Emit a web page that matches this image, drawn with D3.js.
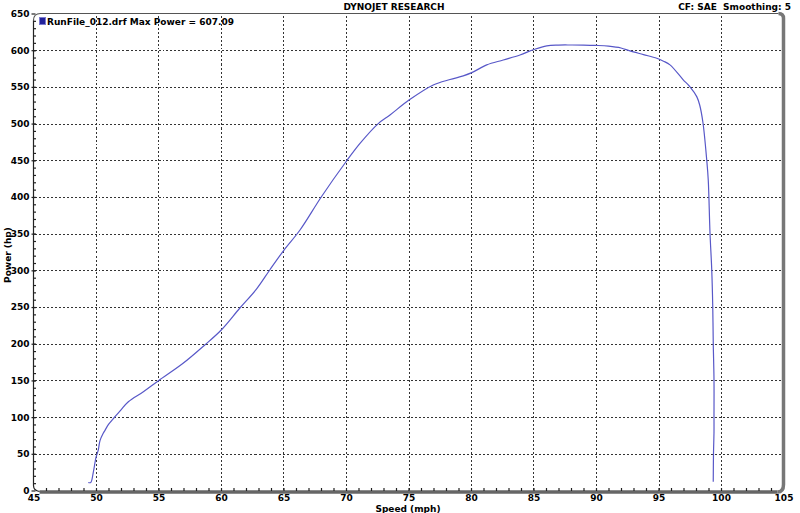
<!DOCTYPE html>
<html lang="en">
<head>
<meta charset="utf-8">
<title>Dynojet power run</title>
<script src="https://cdn.jsdelivr.net/npm/d3@7"></script>
<style>
  body { margin: 0; background: #fff; }
  svg { display: block; font-family: Verdana, "DejaVu Sans", sans-serif; font-weight: bold; }
  .grid line { stroke: #333; stroke-width: 1; stroke-dasharray: 2,2; shape-rendering: crispEdges; }
</style>
</head>
<body>
<script>
// Run data: speed (mph) vs power (hp)
var speed = [49.38, 49.58, 49.78, 50.0, 50.18, 50.32, 50.58, 50.72, 51.0, 51.52, 52.0, 52.59, 53.79, 55.0,
             56.94, 58.68, 60.02, 61.48, 62.82, 63.9, 65.04, 66.32, 68.02, 70.0, 71.12, 72.58, 73.52,
             75.04, 76.98, 78.32, 79.38, 80.06, 81.26, 82.58, 83.92, 85.04, 86.06, 87.0, 88.0, 89.0,
             90.0, 91.0, 92.0, 92.72, 93.8, 94.86, 95.4, 95.92, 96.96, 97.52, 98.06, 98.3, 98.56,
             98.86, 98.98, 99.12, 99.26, 99.34, 99.38, 99.44, 99.44, 99.44, 99.4, 99.38];
var power = [10.9, 11, 24.5, 45, 55, 68, 78, 82, 90, 100.6, 110, 121, 134.6, 149.7,
             173, 198, 218.7, 248, 274, 300.5, 327.7, 355, 400, 448, 473, 500, 511.7,
             532, 552.6, 560, 565, 569.4, 580, 586.7, 593.5, 601, 606, 607, 607.09, 607,
             606.5, 605.5, 603, 599, 594, 589, 585, 580, 560, 550, 536.7, 525, 500.8,
             450, 423, 351, 300.5, 250.5, 201, 150.6, 100.6, 80, 51, 12];

var xMajor = d3.range(45, 106, 5);
var yMajor = d3.range(0, 651, 50);
var xGrid = d3.range(50, 101, 5);
var yGrid = d3.range(50, 601, 50);

var titleText = "DYNOJET RESEARCH";
var infoText = "CF: SAE  Smoothing: 5";
var legendText = "RunFile_012.drf Max Power = 607.09";
var xLabel = "Speed (mph)";
var yLabel = "Power (hp)";

var w = 800, h = 513;

var x = d3.scaleLinear().domain([45, 105]).range([33.5, 783.5]);
var y = d3.scaleLinear().domain([0, 650]).range([490.5, 13.5]);

var svg = d3.select("body").append("svg")
    .attr("width", w)
    .attr("height", h);

// dotted grid
var grid = svg.append("g").attr("class", "grid");
grid.selectAll("line.v")
    .data(xGrid)
    .enter().append("line")
    .attr("class", "v")
    .attr("x1", function(d) { return Math.round(x(d)) + 0.5; })
    .attr("x2", function(d) { return Math.round(x(d)) + 0.5; })
    .attr("y1", y(650) + 2)
    .attr("y2", y(0) - 1);
grid.selectAll("line.h")
    .data(yGrid)
    .enter().append("line")
    .attr("class", "h")
    .attr("x1", x(45) + 1)
    .attr("x2", x(105) - 2)
    .attr("y1", function(d) { return Math.round(y(d)) + 0.5; })
    .attr("y2", function(d) { return Math.round(y(d)) + 0.5; });

// frame: top-left rounded corner, thin top line, thick grey right and bottom
var x0 = x(45), x1 = x(105), y0 = y(0), y1 = y(650);
svg.append("path")
    .attr("d", "M" + x0 + "," + (y1 + 7) + " Q" + x0 + "," + y1 + " " + (x0 + 7) + "," + y1 + " L" + (x1 - 5) + "," + y1)
    .attr("fill", "none")
    .attr("stroke", "#555")
    .attr("stroke-width", 1.2);
svg.append("path")
    .attr("d", "M" + (x1 - 5) + "," + y1 + " Q" + x1 + "," + y1 + " " + x1 + "," + (y1 + 5) + " L" + x1 + "," + (y0 - 6) +
          " Q" + x1 + "," + (y0 + 1.5) + " " + (x1 - 6) + "," + (y0 + 1.5))
    .attr("fill", "none")
    .attr("stroke", "#777")
    .attr("stroke-width", 3.5);
svg.append("line")
    .attr("x1", x0 + 6).attr("x2", x1 - 6)
    .attr("y1", y0 + 1.5).attr("y2", y0 + 1.5)
    .attr("stroke", "#666")
    .attr("stroke-width", 3.5);
svg.append("path")
    .attr("d", "M" + x0 + "," + (y1 + 7) + " L" + x0 + "," + (y0 - 5) + " Q" + x0 + "," + y0 + " " + (x0 + 6) + "," + (y0 + 1))
    .attr("fill", "none")
    .attr("stroke", "#222")
    .attr("stroke-width", 1.2);

// y axis ticks and labels
var yAxisMinor = d3.axisLeft(y)
    .tickValues(d3.range(10, 650, 10))
    .tickSize(3)
    .tickFormat("");
var gyMinor = svg.append("g")
    .attr("transform", "translate(" + (x0 + 2.5) + ",0)")
    .call(yAxisMinor);
gyMinor.select(".domain").remove();
gyMinor.selectAll("line").attr("stroke", "#222").attr("stroke-width", 1.2);

var yAxis = d3.axisLeft(y)
    .tickValues(yMajor)
    .tickSize(4)
    .tickPadding(1)
    .tickFormat(d3.format("d"));
var gy = svg.append("g")
    .attr("transform", "translate(" + (x0 + 2) + ",0)")
    .call(yAxis);
gy.select(".domain").remove();
gy.selectAll("line").attr("stroke", "#222").attr("stroke-width", 1.2);
gy.selectAll("text")
    .attr("x", -6)
    .attr("fill", "#000")
    .style("font-family", "Verdana, 'DejaVu Sans', sans-serif")
    .style("font-size", "9px")
    .style("font-weight", "bold");

// x axis ticks (pointing up from the grey bar) and labels
var xAxisMinor = d3.axisTop(x)
    .tickValues(d3.range(46, 105, 1))
    .tickSize(3)
    .tickFormat("");
var gxMinor = svg.append("g")
    .attr("transform", "translate(0," + (y0 + 0.5) + ")")
    .call(xAxisMinor);
gxMinor.select(".domain").remove();
gxMinor.selectAll("line").attr("stroke", "#222").attr("stroke-width", 1.2);

var xAxis = d3.axisBottom(x)
    .tickValues(xMajor)
    .tickSize(0)
    .tickPadding(3)
    .tickFormat(d3.format("d"));
var gx = svg.append("g")
    .attr("transform", "translate(0," + (y0 + 1) + ")")
    .call(xAxis);
gx.select(".domain").remove();
gx.selectAll("text")
    .attr("fill", "#000")
    .style("font-family", "Verdana, 'DejaVu Sans', sans-serif")
    .style("font-size", "9px")
    .style("font-weight", "bold");

// power curve
var pts = speed.map(function(s, i) { return [s, power[i]]; });
svg.append("path")
    .datum(pts)
    .attr("d", d3.line()
        .x(function(d) { return x(d[0]); })
        .y(function(d) { return y(d[1]); })
        .curve(d3.curveCatmullRom.alpha(0.5)))
    .attr("fill", "none")
    .attr("stroke", "#5858c8")
    .attr("stroke-width", 1.2);

// titles
svg.append("text")
    .attr("x", 394).attr("y", 10)
    .attr("text-anchor", "middle")
    .style("font-size", "9px")
    .text(titleText);
svg.append("text")
    .attr("x", 791).attr("y", 10)
    .attr("text-anchor", "end")
    .style("font-size", "9px")
    .style("white-space", "pre")
    .text(infoText);

// legend
svg.append("rect")
    .attr("x", 39.5).attr("y", 17.5)
    .attr("width", 6).attr("height", 7)
    .attr("fill", "#22229a")
    .attr("stroke", "#7a7ad0")
    .attr("stroke-width", 1);
svg.append("text")
    .attr("x", 47).attr("y", 24.5)
    .style("font-size", "9px")
    .text(legendText);

// axis titles
svg.append("text")
    .attr("x", 408).attr("y", 512)
    .attr("text-anchor", "middle")
    .style("font-size", "9px")
    .text(xLabel);
svg.append("text")
    .attr("transform", "translate(11,255) rotate(-90)")
    .attr("text-anchor", "middle")
    .style("font-size", "9px")
    .text(yLabel);
</script>
</body>
</html>
